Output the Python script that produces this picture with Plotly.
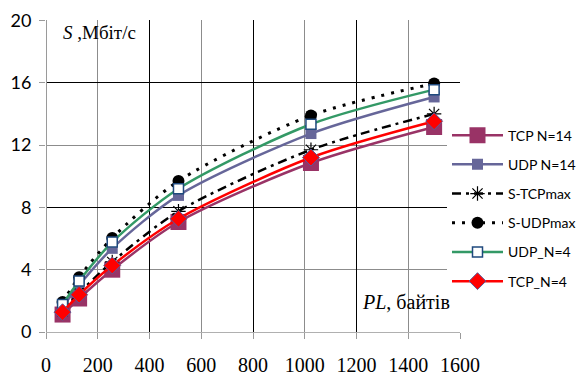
import plotly.graph_objects as go

PL = [64, 128, 256, 512, 1024, 1500]
tcp_n14 = [1.12, 2.15, 4.0, 7.06, 10.85, 13.16]
udp_n14 = [1.6, 3.0, 5.37, 8.77, 12.74, 15.09]
s_tcp_max = [1.35, 2.5, 4.5, 7.75, 11.7, 14.0]
s_udp_max = [1.92, 3.52, 6.03, 9.69, 13.9, 15.95]
udp_n4 = [1.77, 3.27, 5.77, 9.2, 13.34, 15.56]
tcp_n4 = [1.27, 2.39, 4.27, 7.27, 11.2, 13.53]

names = ["TCP N=14", "UDP N=14", "S-TCPmax", "S-UDPmax", "UDP_N=4", "TCP_N=4"]
x_ticks = [0, 200, 400, 600, 800, 1000, 1200, 1400, 1600]
y_ticks = [0, 4, 8, 12, 16, 20]

fig = go.Figure()

def add(y, name, lcolor, lwidth, dash, msym, msize, mcolor, mline_color, mline_w):
    fig.add_trace(go.Scatter(
        x=PL, y=y, name=name, mode="lines+markers", legendgroup=name,
        line=dict(color=lcolor, width=lwidth, dash=dash, shape="spline", smoothing=0.8),
        marker=dict(symbol=msym, size=msize, color=mcolor,
                    line=dict(color=mline_color, width=mline_w)),
    ))

add(tcp_n14, names[0], "#993366", 2.5, "solid", "square", 16, "#993366", "#993366", 0)
add(udp_n14, names[1], "#666699", 2.5, "solid", "square", 11, "#666699", "#666699", 0)
add(s_tcp_max, names[2], "#000000", 2.5, "9px,5px,3px,5px", "asterisk-open", 12, "#000000", "#000000", 1.2)
add(s_udp_max, names[3], "#000000", 3, "3px,7px", "circle", 12, "#000000", "#000000", 0)
add(udp_n4, names[4], "#339966", 2.5, "solid", "square", 10, "#FFFFFF", "#1F497D", 1.5)
add(tcp_n4, names[5], "#FF0000", 2.5, "solid", "diamond", 13, "#FF0000", "#5a5a9a", 1)

# darker major grid via overlay axes
fig.add_trace(go.Scatter(x=[None], y=[None], xaxis="x2", yaxis="y2", showlegend=False, hoverinfo="skip"))

# page body has an 8px default margin: figure is 577x368 so it fills the 585x376 window
fig.update_layout(
    width=577, height=368,
    margin=dict(l=38, r=125, t=12, b=44, autoexpand=False),
    paper_bgcolor="white", plot_bgcolor="white",
    font=dict(family="Lato", size=16, color="#000000"),
    xaxis=dict(range=[0, 1600], tickvals=x_ticks, showgrid=True, gridcolor="#8c8c8c", gridwidth=1.3,
               zeroline=True, zerolinecolor="#9a9a9a", zerolinewidth=1.3,
               ticks="outside", ticklen=6, tickcolor="#9a9a9a", tickwidth=1.3,
               ticklabelstandoff=9, tickfont=dict(family="Liberation Sans Narrow", size=20),
               layer="below traces"),
    yaxis=dict(range=[0, 20.03], tickvals=y_ticks, showgrid=True, gridcolor="#8c8c8c", gridwidth=1.3,
               zeroline=True, zerolinecolor="#b0b0b0", zerolinewidth=1.3,
               ticks="outside", ticklen=6, tickcolor="#9a9a9a", tickwidth=1.3,
               ticklabelstandoff=4, tickfont=dict(family="Lato", size=18)),
    xaxis2=dict(range=[0, 1600], overlaying="x", tickvals=[400, 800, 1200, 1600], showgrid=True,
                gridcolor="#000000", gridwidth=1, showticklabels=False, zeroline=False, ticks=""),
    yaxis2=dict(range=[0, 20.03], overlaying="y", tickvals=[8, 16, 20], showgrid=True,
                gridcolor="#000000", gridwidth=1, showticklabels=False, zeroline=False, ticks=""),
    legend=dict(x=0.9686, y=0.681, xanchor="left", yanchor="top", bgcolor="white",
                itemwidth=51, tracegroupgap=8, font=dict(family="Lato", size=14),
                itemsizing="trace"),
    showlegend=True,
    shapes=[
        dict(type="rect", xref="paper", yref="paper", x0=0.0345, x1=0.2324, y0=0.882, y1=1.03,
             fillcolor="white", line=dict(width=0), layer="between"),
        dict(type="rect", xref="paper", yref="paper", x0=0.752, x1=0.981, y0=0.0145, y1=0.159,
             fillcolor="white", line=dict(width=0), layer="between"),
    ],
    annotations=[
        dict(xref="paper", yref="paper", x=0.1287, y=0.959, text="<i>S</i> ,Мбіт/с", showarrow=False,
             font=dict(family="Liberation Serif", size=19, color="#000000"), xanchor="center", yanchor="middle"),
        dict(xref="paper", yref="paper", x=0.869, y=0.0948, text="<i>PL</i>, байтів", showarrow=False,
             font=dict(family="Liberation Serif", size=20, color="#000000"), xanchor="center", yanchor="middle"),
    ],
)

fig.write_html("out.html")
